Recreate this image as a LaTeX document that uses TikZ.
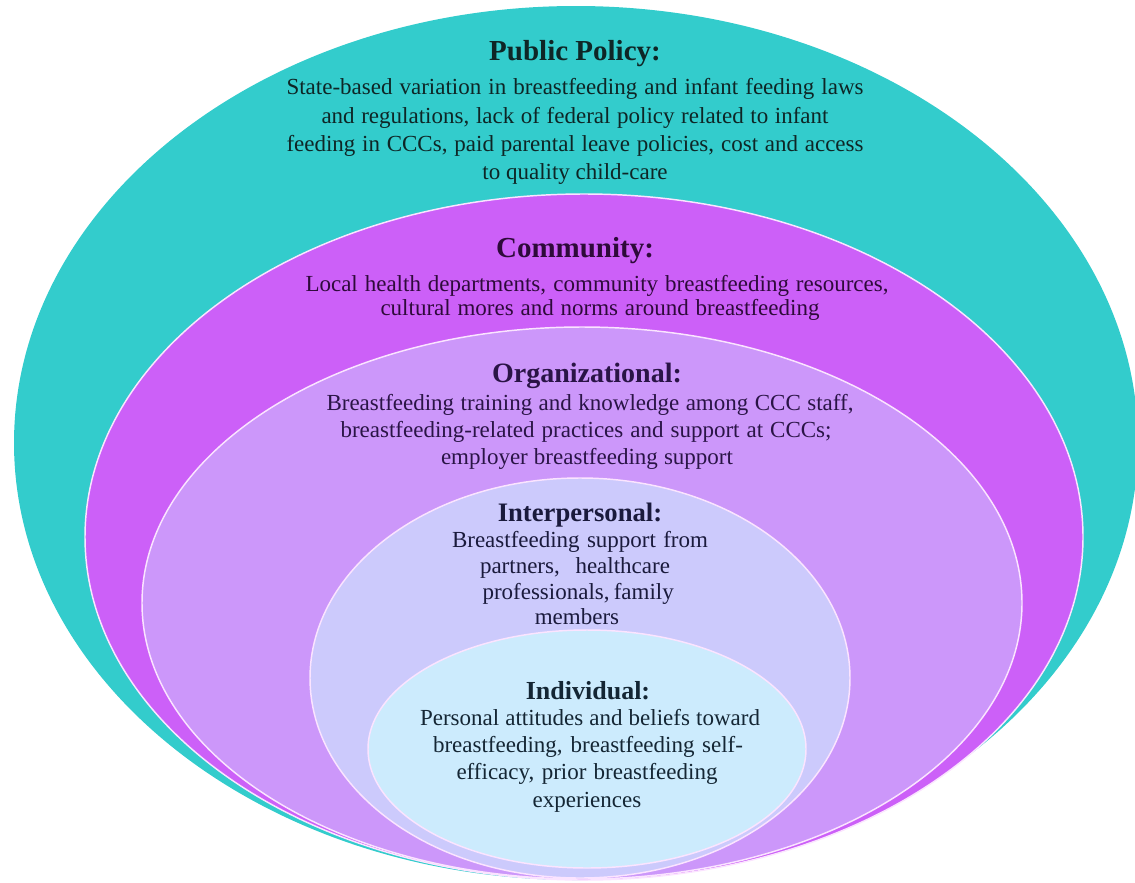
\documentclass[tikz,border=0pt]{standalone}
\usepackage{fontspec}
\setmainfont{Liberation Serif}
\definecolor{cteal}{HTML}{33CCCC}
\definecolor{cpurple}{HTML}{CC60F8}
\definecolor{corg}{HTML}{CC97FA}
\definecolor{cinter}{HTML}{CCCAFC}
\definecolor{cindiv}{HTML}{CCEBFD}
\definecolor{edge}{HTML}{FBE4FF}
\definecolor{tpp}{HTML}{0E2626}
\definecolor{tcom}{HTML}{2E0A3A}
\definecolor{torg}{HTML}{2A1446}
\definecolor{tint}{HTML}{1A1A3C}
\definecolor{tind}{HTML}{142634}
\newcommand{\jl}[2]{\makebox[#1][s]{#2}}
\begin{document}
\begin{tikzpicture}[x=0.75pt,y=-0.75pt,
  ring/.style={draw=edge,line width=1.1pt},
  body/.style={font=\fontsize{17.25pt}{20pt}\selectfont, anchor=base, inner sep=0pt},
  title/.style={font=\fontsize{#1}{#1}\selectfont\bfseries, anchor=base, inner sep=0pt}]
\useasboundingbox (0,0) rectangle (1135,882);
% rings
\path[fill=cteal] (576,443) ellipse [x radius=421.5pt, y radius=327.75pt];
\path[ring,fill=cpurple] (584,537) ellipse [x radius=374.25pt, y radius=257.25pt];
\path[ring,fill=corg] (582,603) ellipse [x radius=330pt, y radius=207pt];
\path[ring,fill=cinter] (580,678) ellipse [x radius=202.5pt, y radius=150pt];
\path[ring,fill=cindiv] (587,749) ellipse [x radius=164.25pt, y radius=89.25pt];
% Public Policy
\node[title=21.75pt, text=tpp] (ppt) at (575,60) {Public Policy:};
\node[body, text=tpp] (pp1) at (575,94) {\jl{432.75pt}{State-based variation in breastfeeding and infant feeding laws}};
\node[body, text=tpp] (pp2) at (575,123) {\jl{380.25pt}{and regulations, lack of federal policy related to infant}};
\node[body, text=tpp] (pp3) at (575,151) {\jl{432.75pt}{feeding in CCCs, paid parental leave policies, cost and access}};
\node[body, text=tpp] (pp4) at (575,179) {to quality child-care};
% Community
\node[title=21.75pt, text=tcom] (cmt) at (575,257) {Community:};
\node[body, text=tcom] (cm1) at (597,291) {\jl{437.25pt}{Local health departments, community breastfeeding resources,}};
\node[body, text=tcom] (cm2) at (600,315) {\jl{329.25pt}{cultural mores and norms around breastfeeding}};
% Organizational
\node[title=21pt, text=torg] (ogt) at (587,382) {Organizational:};
\node[body, text=torg] (og1) at (590,410) {\jl{395.25pt}{Breastfeeding training and knowledge among CCC staff,}};
\node[body, text=torg] (og2) at (586,437) {\jl{368.25pt}{breastfeeding-related practices and support at CCCs;}};
\node[body, text=torg] (og3) at (587,464) {\jl{219pt}{employer breastfeeding support}};
% Interpersonal
\node[title=20pt, text=tint] (ipt) at (580,521) {Interpersonal:};
\node[body, text=tint] (ip1) at (580,547) {\jl{192pt}{Breastfeeding support from}};
\node[body, text=tint] (ip2) at (575,573) {\jl{142.5pt}{partners, healthcare}};
\node[body, text=tint] (ip3) at (578,599) {\jl{143.25pt}{professionals, family}};
\node[body, text=tint] (ip4) at (577,624) {members};
% Individual
\node[title=19.5pt, text=tind] (idt) at (588,699) {Individual:};
\node[body, text=tind] (id1) at (590,725) {\jl{255pt}{Personal attitudes and beliefs toward}};
\node[body, text=tind] (id2) at (588,752) {\jl{232.5pt}{breastfeeding, breastfeeding self-}};
\node[body, text=tind] (id3) at (587,779) {\jl{195.75pt}{efficacy, prior breastfeeding}};
\node[body, text=tind] (id4) at (587,807) {experiences};
\end{tikzpicture}
\end{document}
